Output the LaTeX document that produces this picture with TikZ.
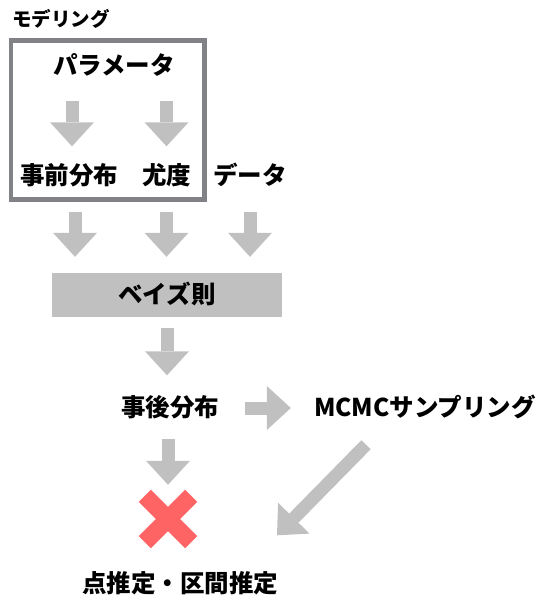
\documentclass[tikz,border=0pt]{standalone}
\usepackage{fontspec}
\setmainfont{Noto Sans CJK JP}
\usetikzlibrary{arrows.meta}
\definecolor{arrowgray}{HTML}{C0C0C0}
\definecolor{framegray}{HTML}{808285}
\definecolor{crossred}{HTML}{FF6464}
\tikzset{
  blockarrow/.style={draw=arrowgray, line width=13pt, -{Triangle[width=44pt,length=24pt,line width=0pt]}},
  lbl/.style={font=\fontsize{24.5}{24.5}\selectfont\bfseries, inner sep=0pt, text height=19pt, text depth=2pt}
}
\begin{document}
\begin{tikzpicture}[x=1pt,y=-1pt]
\useasboundingbox (0,0) rectangle (545,604);
\node [lbl, font=\fontsize{19.5}{19.5}\selectfont\bfseries, anchor=west] (modeling) at (12,18) {モデリング};
\draw [framegray, line width=4.5pt] (11,40.5) rectangle (204.5,199.5);

\node [lbl] (param) at (114,66) {パラメータ};
\node [lbl] (prior) at (69,176) {事前分布}; \node [lbl] (lik) at (166.5,176) {尤度}; \node [lbl] (data) at (250,176) {データ};
\node [lbl, fill=arrowgray, minimum width=230pt, minimum height=44pt] (bayes) at (167,295) {ベイズ則};
\node [lbl] (post) at (170,408) {事後分布}; \node [lbl] (mcmc) at (425,408) {MCMCサンプリング};
\node [minimum size=46pt, inner sep=0pt] (ng) at (168,519) {};
\draw [crossred, line width=17pt] (ng.north west) -- (ng.south east) (ng.north east) -- (ng.south west);
\node [lbl] (result) at (180,584) {点推定・区間推定};

\draw [blockarrow, shorten <=24pt, shorten >=19pt] ([xshift=3pt]param.south -| prior) -- ([xshift=3pt]prior.north);
\draw [blockarrow, shorten <=24pt, shorten >=19pt] (param.south -| lik) -- (lik.north);
\draw [blockarrow, shorten <=25pt, shorten >=16pt] ([xshift=6pt]prior.south) -- ([xshift=6pt]prior.south |- bayes.north);
\foreach \n in {lik,data} \draw [blockarrow, shorten <=25pt, shorten >=16pt] (\n.south) -- (\n.south |- bayes.north);
\draw [blockarrow, shorten <=11pt, shorten >=22pt] (bayes.south) -- (bayes.south |- post.north);
\draw [blockarrow, shorten <=26pt, shorten >=23pt] (post.east) -- (mcmc.west);
\draw [blockarrow, shorten <=20pt, shorten >=11pt] (post.south -| ng) -- (ng.north);
\draw [blockarrow] ([shift={(-59,26)}]mcmc.south) -- ([shift={(97,-38)}]result.north);
\end{tikzpicture}
\end{document}
